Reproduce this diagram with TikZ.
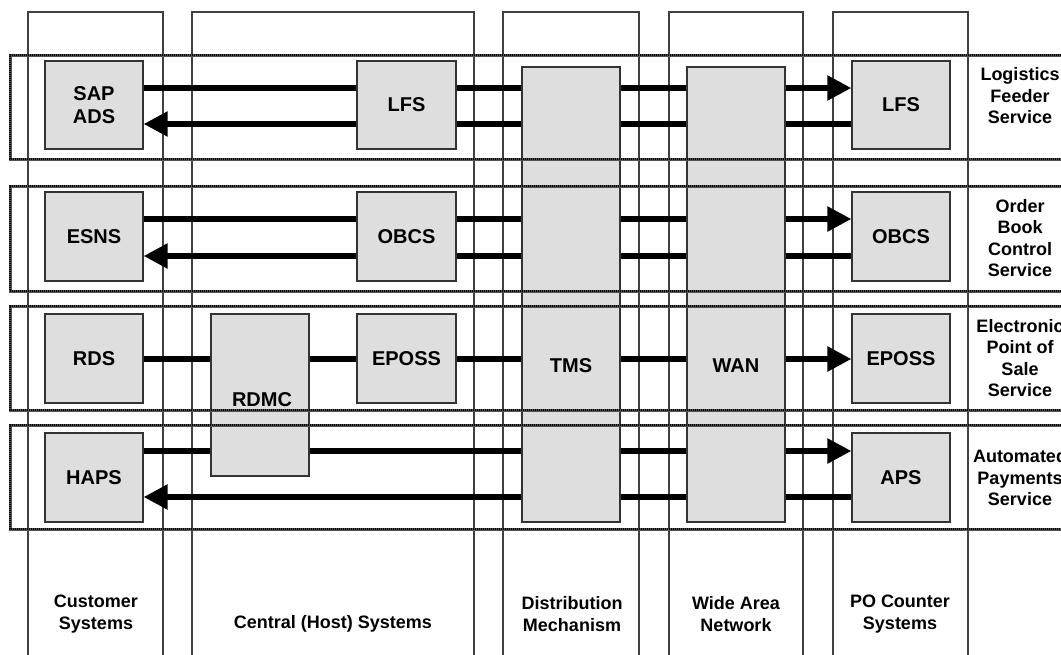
\documentclass[tikz,border=0pt]{standalone}
\usepackage{fontspec}
\setmainfont{Liberation Sans}
\usetikzlibrary{arrows.meta}
\begin{document}
\begin{tikzpicture}[x=1pt,y=-1pt,
  column/.style={draw=black!75,line width=1.2pt},
  rowframe/.style={draw=black!68,line width=3pt},
  rowdots/.style={draw=black,line width=1.6pt,dash pattern=on 1pt off 1pt},
  sysbox/.style={draw=black!80,line width=1.3pt,fill=black!13,inner sep=0pt,
    font=\bfseries\fontsize{20}{23}\selectfont,align=center},
  boxtext/.style={font=\bfseries\fontsize{20}{23}\selectfont,inner sep=0pt},
  lbl/.style={font=\bfseries\fontsize{18}{21.5}\selectfont,align=center,inner sep=0pt},
  conn/.style={line width=5.5pt,draw=black},
  tip/.style={-{Triangle[length=24pt,width=24pt]}}]
\useasboundingbox (0,0) rectangle (1061,654);
% columns
\draw[column] (28,660) -- (28,12) -- (163,12) -- (163,660);
\draw[column] (192,660) -- (192,12) -- (474,12) -- (474,660);
\draw[column] (503,660) -- (503,12) -- (639,12) -- (639,660);
\draw[column] (669,660) -- (669,12) -- (803,12) -- (803,660);
\draw[column] (833,660) -- (833,12) -- (968,12) -- (968,660);
% coordinates for boxes
\path (94,105) coordinate (pSAP) (406.5,105) coordinate (pLFSc) (901,105) coordinate (pLFSr)
      (94,236.5) coordinate (pESNS) (406.5,236.5) coordinate (pOBCSc) (901,236.5) coordinate (pOBCSr)
      (94,358.5) coordinate (pRDS) (406.5,358.5) coordinate (pEPOSSc) (901,358.5) coordinate (pEPOSSr)
      (94,477.5) coordinate (pHAPS) (901,477.5) coordinate (pAPS)
      (260,395) coordinate (pRDMC) (571,294.5) coordinate (pTMS) (736,294.5) coordinate (pWAN);
% end boxes (drawn first as anchors for connectors)
\node[sysbox,minimum width=98pt,minimum height=88pt] (SAP) at (pSAP) {SAP\\ADS};
\node[sysbox,minimum width=98pt,minimum height=88pt] (LFSr) at (pLFSr) {LFS};
\node[sysbox,minimum width=98pt,minimum height=89pt] (ESNS) at (pESNS) {ESNS};
\node[sysbox,minimum width=98pt,minimum height=89pt] (OBCSr) at (pOBCSr) {OBCS};
\node[sysbox,minimum width=98pt,minimum height=89pt] (RDS) at (pRDS) {RDS};
\node[sysbox,minimum width=98pt,minimum height=89pt] (EPOSSr) at (pEPOSSr) {EPOSS};
\node[sysbox,minimum width=98pt,minimum height=89pt] (HAPS) at (pHAPS) {HAPS};
\node[sysbox,minimum width=98pt,minimum height=89pt] (APS) at (pAPS) {APS};
% connectors
\draw[conn,tip] (SAP.east |- 0,88) -- (LFSr.west |- 0,88);
\draw[conn,tip] (LFSr.west |- 0,124) -- (SAP.east |- 0,124);
\draw[conn,tip] (ESNS.east |- 0,219) -- (OBCSr.west |- 0,219);
\draw[conn,tip] (OBCSr.west |- 0,256) -- (ESNS.east |- 0,256);
\draw[conn,tip] (RDS.east |- 0,359) -- (EPOSSr.west |- 0,359);
\draw[conn,tip] (HAPS.east |- 0,451) -- (APS.west |- 0,451);
\draw[conn,tip] (APS.west |- 0,497) -- (HAPS.east |- 0,497);
% middle boxes over the connectors
\node[sysbox,minimum width=99pt,minimum height=88pt] (LFSc) at (pLFSc) {LFS};
\node[sysbox,minimum width=99pt,minimum height=89pt] (OBCSc) at (pOBCSc) {OBCS};
\node[sysbox,minimum width=99pt,minimum height=89pt] (EPOSSc) at (pEPOSSc) {EPOSS};
\node[sysbox,minimum width=98pt,minimum height=162pt] (RDMC) at (pRDMC) {};
\node[sysbox,minimum width=98pt,minimum height=455pt] (TMS) at (pTMS) {};
\node[sysbox,minimum width=98pt,minimum height=455pt] (WAN) at (pWAN) {};
\node[boxtext] (RDMCt) at (262,400) {RDMC};
\node[boxtext] (TMSt) at (571,366) {TMS};
\node[boxtext] (WANt) at (736,366) {WAN};
% row frames
\foreach \ya/\yb in {55/159,186/291,306/410,425/529}{
  \draw[rowframe] (1075,\ya) -- (10,\ya) -- (10,\yb) -- (1075,\yb);
  \draw[rowdots] (1075,\ya) -- (10,\ya) -- (10,\yb) -- (1075,\yb);
}
% row labels
\node[lbl] (r1) at (1020,96) {Logistics\\Feeder\\Service};
\node[lbl] (r2) at (1020,238) {Order\\Book\\Control\\Service};
\node[lbl] (r3) at (1020,358) {Electronic\\Point of\\Sale\\Service};
\node[lbl] (r4) at (1020,478) {Automated\\Payments\\Service};
% column labels
\node[lbl] (c1) at (96,614) {Customer\\Systems};
\node[lbl] (c2) at (333,624) {Central (Host) Systems};
\node[lbl] (c3) at (572,614) {Distribution\\Mechanism};
\node[lbl] (c4) at (736,614) {Wide Area\\Network};
\node[lbl] (c5) at (900,614) {PO Counter\\Systems};
\end{tikzpicture}
\end{document}
